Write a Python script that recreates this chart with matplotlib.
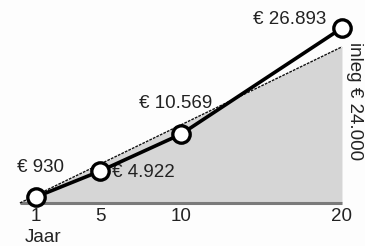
import matplotlib.pyplot as plt

# --- DATA ---
years = [1, 5, 10, 20]
values = [930, 4922, 10569, 26893]
value_labels = ['€ 930', '€ 4.922', '€ 10.569', '€ 26.893']
inleg_years = [0, 20]
inleg_values = [0, 24000]
inleg_label = 'inleg € 24.000'
tick_years = [1, 5, 10, 20]
tick_labels = ['1', '5', '10', '20']
x_title = 'Jaar'

plt.rcParams['font.family'] = ['Liberation Sans', 'DejaVu Sans']

fig = plt.figure(figsize=(3.65, 2.46), dpi=100)
ax = fig.add_axes([0, 0, 1, 1])
ax.set_xlim(-1.236, 21.43)
ax.set_ylim(-6608, 31197)
ax.axis('off')

# grey area = inleg (deposits)
ax.fill_between(inleg_years, 0, inleg_values, color='#d6d6d6', lw=0, zorder=1)
ax.plot(inleg_years, [0, 0], color='#7a7a7a', lw=2.2, solid_capstyle='butt', zorder=2)
ax.plot(inleg_years, inleg_values, color='#111111', lw=1.0, ls=(0, (2.0, 0.8)), zorder=3)

# value line
ax.plot(years, values, color='black', lw=2.6, marker='o', ms=12.5,
        mfc='white', mec='black', mew=2.4, zorder=4, clip_on=False)

fs = 13.5
tc = '#222222'
ax.annotate(value_labels[0], (years[0], values[0]), xytext=(3, 21), textcoords='offset points',
            ha='center', va='center', fontsize=fs, color=tc)
ax.annotate(value_labels[1], (years[1], values[1]), xytext=(8, -1), textcoords='offset points',
            ha='left', va='center', fontsize=fs, color=tc)
ax.annotate(value_labels[2], (years[2], values[2]), xytext=(-30, 22), textcoords='offset points',
            ha='left', va='center', fontsize=fs, color=tc)
ax.annotate(value_labels[3], (years[3], values[3]), xytext=(-11, 6), textcoords='offset points',
            ha='right', va='center', fontsize=fs, color=tc)
ax.annotate(inleg_label, (inleg_years[1], inleg_values[1] / 2), xytext=(9, 17),
            textcoords='offset points', ha='center', va='center', rotation=-90,
            fontsize=fs, color=tc)

# x tick labels
for yr, lab in zip(tick_years, tick_labels):
    ax.annotate(lab, (yr, 0), xytext=(0, -10), textcoords='offset points',
                ha='center', va='center', fontsize=fs, color=tc)
ax.annotate(x_title, (tick_years[0], 0), xytext=(5, -25), textcoords='offset points',
            ha='center', va='center', fontsize=fs, color=tc)

fig.savefig('out.png', dpi=100, facecolor='#fdfdfd')
